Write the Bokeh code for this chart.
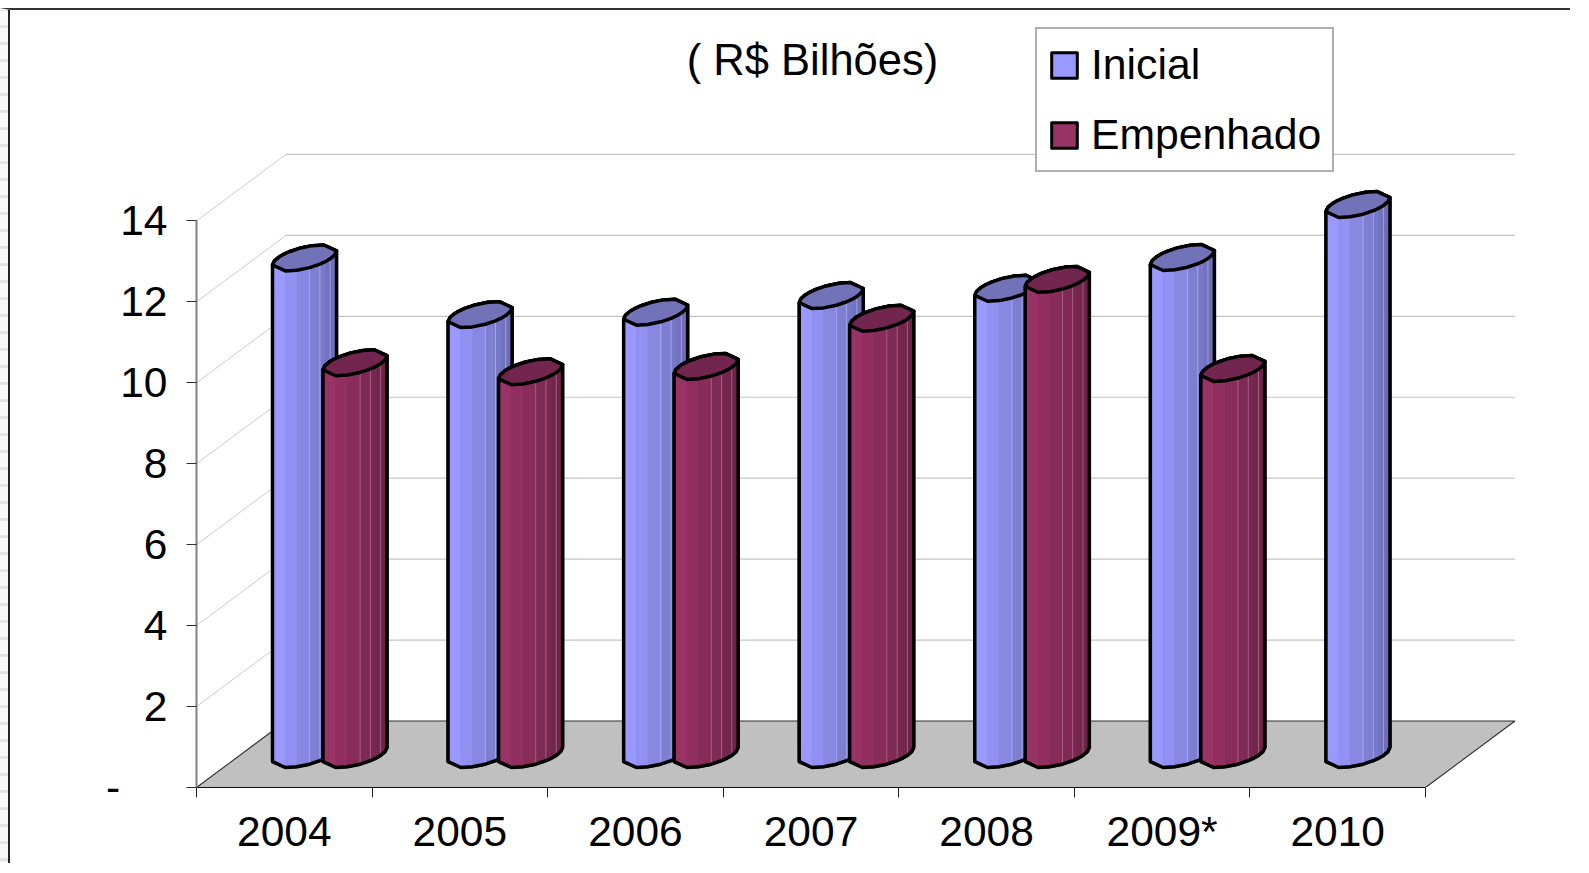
import numpy as np
from bokeh.embed import file_html
from bokeh.models import FixedTicker, Label, Legend, LegendItem, Range1d
from bokeh.plotting import figure
from bokeh.resources import INLINE

categories = ["2004", "2005", "2006", "2007", "2008", "2009*", "2010"]
inicial = [12.27, 10.87, 10.93, 11.34, 11.52, 12.28, 13.59]
empenhado = [9.68, 9.46, 9.59, 10.78, 11.74, 9.54, None]
y_ticks = [0, 2, 4, 6, 8, 10, 12, 14]
y_tick_labels = ["-\u00a0\u00a0\u00a0\u00a0", "2", "4", "6", "8", "10", "12", "14"]
title_text = "( R$ Bilhões)"

FONT = "Liberation Sans"
PX_X = 175.57          # pixels per category
PX_Y = 40.47           # pixels per value unit
FRAME_LEFT, FRAME_BOTTOM, ORIGIN_X, ORIGIN_Y, FIG_W, FIG_H = 196, 787, 10, 10, 1570, 855

DEPTH_X = 89.5 / PX_X
DEPTH_Y = 66.5 / PX_Y
N = len(categories)

p = figure(
    width=FIG_W, height=FIG_H, output_backend="svg", toolbar_location=None,
    x_range=Range1d(0, (ORIGIN_X + FIG_W - FRAME_LEFT) / PX_X),
    y_range=Range1d(0, (FRAME_BOTTOM - ORIGIN_Y) / PX_Y),
    min_border_left=FRAME_LEFT - ORIGIN_X, min_border_right=0, min_border_top=0,
    min_border_bottom=ORIGIN_Y + FIG_H - FRAME_BOTTOM,
    background_fill_color="white", border_fill_color="white", outline_line_color=None,
    styles={"margin-top": "8px",
            "border-top": "2px solid #333333",
            "border-left": "10px solid transparent",
            "background-origin": "border-box",
            "background-image": "linear-gradient(90deg, transparent 8px, #222222 8px, #222222 10px, white 10px), "
                                "repeating-linear-gradient(180deg, #E4E4E4 0 3px, #F8F8F8 3px 17px)"},
)
p.grid.visible = False

# walls and floor
floor_x = [0, N, N + DEPTH_X, DEPTH_X]
floor_y = [0, 0, DEPTH_Y, DEPTH_Y]
yt = np.array(y_ticks[1:], dtype=float)
p.segment(x0=DEPTH_X, x1=N + DEPTH_X, y0=yt + DEPTH_Y, y1=yt + DEPTH_Y, line_color="#C4C4C4", line_width=1.2)
p.segment(x0=0, x1=DEPTH_X, y0=yt, y1=yt + DEPTH_Y, line_color="#CCCCCC", line_width=1.0)
p.patch(floor_x, floor_y, fill_color="#C0C0C0", line_color=None)
p.line([0, DEPTH_X, N + DEPTH_X, N], [0, DEPTH_Y, DEPTH_Y, 0], line_color="#303030", line_width=1.1)

# cylinder cross-section
EA, EDX, EDY = 26.9 / PX_X, 17.4 / PX_X, 13.0 / PX_Y
BASE_Y = 0.815
PHI = np.arctan2(17.4, 26.9)
FRACS = np.array([0, .2, .38, .58, .74, .83, .9, .97, 1.0])
US = 2 * np.pi - np.arccos(2 * FRACS - 1)   # front half, left to right
SHADES = [1.0, .95, .89, .83, .79, .75, .72, .70]
LIGHT_FRACS = [3, 4, 6]
OUTLINE = 3.5


def front_arc(cx, cy):
    t = US + PHI
    return cx + EA * np.cos(t) + EDX * np.sin(t), cy + EDY * np.sin(t)


def draw_series(values, offset, base_rgb, top_color, light):
    rgb = np.array(base_rgb, dtype=float)
    sil_x, sil_y, fac_x, fac_y, fac_c, top_x, top_y = [], [], [], [], [], [], []
    lx, ly0, ly1 = [], [], []
    for i, v in enumerate(values):
        if v is None:
            continue
        cx = i + 0.5 + DEPTH_X / 2 + offset
        bx, by = front_arc(cx, BASE_Y)
        tx, ty = front_arc(cx, BASE_Y + v)
        # the back half of the ellipse mirrors the front one through its centre
        backx, backy = 2 * cx - tx, 2 * (BASE_Y + v) - ty
        sil_x.append(list(bx) + list(backx))
        sil_y.append(list(by) + list(backy))
        top_x.append(list(tx) + list(backx[1:-1]))
        top_y.append(list(ty) + list(backy[1:-1]))
        for k in range(len(bx) - 1):
            fac_x.append([bx[k], bx[k + 1], tx[k + 1], tx[k]])
            fac_y.append([by[k], by[k + 1], ty[k + 1], ty[k]])
            fac_c.append("#%02x%02x%02x" % tuple((rgb * SHADES[k]).astype(int)))
        for k in LIGHT_FRACS:
            lx.append(bx[k]); ly0.append(by[k]); ly1.append(ty[k])
    sil = p.patches(sil_x, sil_y, fill_color="#%02x%02x%02x" % tuple(rgb.astype(int)),
                    line_color="black", line_width=3, line_join="round")
    p.patches(fac_x, fac_y, fill_color=fac_c, line_color=fac_c, line_width=0.6)
    p.segment(x0=lx, x1=lx, y0=ly0, y1=ly1, line_color=light, line_width=1, line_alpha=0.55)
    p.patches(sil_x, sil_y, fill_color=None, line_color="black", line_width=OUTLINE, line_join="round")
    p.patches(top_x, top_y, fill_color=top_color, line_color="black", line_width=OUTLINE, line_join="round")
    return sil


r_ini = draw_series(inicial, -24.5 / PX_X, (153, 153, 255), "#7272B8", "#C8C8FF")
r_emp = draw_series(empenhado, 26 / PX_X, (153, 51, 102), "#72264F", "#C890B0")

# axes
xa = p.xaxis[0]
xa.ticker = FixedTicker(ticks=[i + 0.5 for i in range(N)], minor_ticks=list(range(N + 1)))
xa.major_label_overrides = {i + 0.5: c for i, c in enumerate(categories)}
xa.bounds = (0, N)
xa.major_tick_in = 0
xa.major_tick_out = 0
xa.minor_tick_in = 0
xa.minor_tick_out = 10
xa.minor_tick_line_color = "#202020"
xa.axis_line_color = "#101010"
xa.axis_line_width = 1.2
xa.major_label_standoff = 10
xa.major_label_text_font = FONT
xa.major_label_text_font_size = "42.5px"
xa.major_label_text_color = "black"

ya = p.yaxis[0]
ya.ticker = FixedTicker(ticks=y_ticks)
ya.major_label_overrides = dict(zip(y_ticks, y_tick_labels))
ya.bounds = (0, 14)
ya.major_tick_in = 0
ya.major_tick_out = 10
ya.minor_tick_in = 0
ya.minor_tick_out = 0
ya.major_tick_line_color = "#303030"
ya.major_tick_line_width = 1.2
ya.axis_line_color = "#808080"
ya.axis_line_width = 2
ya.major_label_standoff = 19
ya.major_label_text_font = FONT
ya.major_label_text_font_size = "42.5px"
ya.major_label_text_color = "black"
ya.major_label_orientation = "horizontal"

p.add_layout(Label(x=(812 - FRAME_LEFT) / PX_X, y=(FRAME_BOTTOM - 59) / PX_Y, text=title_text,
                   text_font=FONT, text_font_size="43.5px", text_color="black",
                   text_align="center", text_baseline="middle"))

legend = Legend(
    items=[LegendItem(label="Inicial", renderers=[r_ini]), LegendItem(label="Empenhado", renderers=[r_emp])],
    location=(1035 - FRAME_LEFT, FRAME_BOTTOM - 172), orientation="vertical",
    glyph_width=32, glyph_height=32, label_height=44, label_width=225, label_standoff=11,
    spacing=21, padding=11, margin=0,
    label_text_font=FONT, label_text_font_size="42.7px", label_text_color="black",
    label_text_baseline="middle",
    background_fill_color="white", background_fill_alpha=1,
    border_line_color="#606060", border_line_width=2,
)
p.add_layout(legend, "center")

open("out.html", "w").write(file_html(p, INLINE))
